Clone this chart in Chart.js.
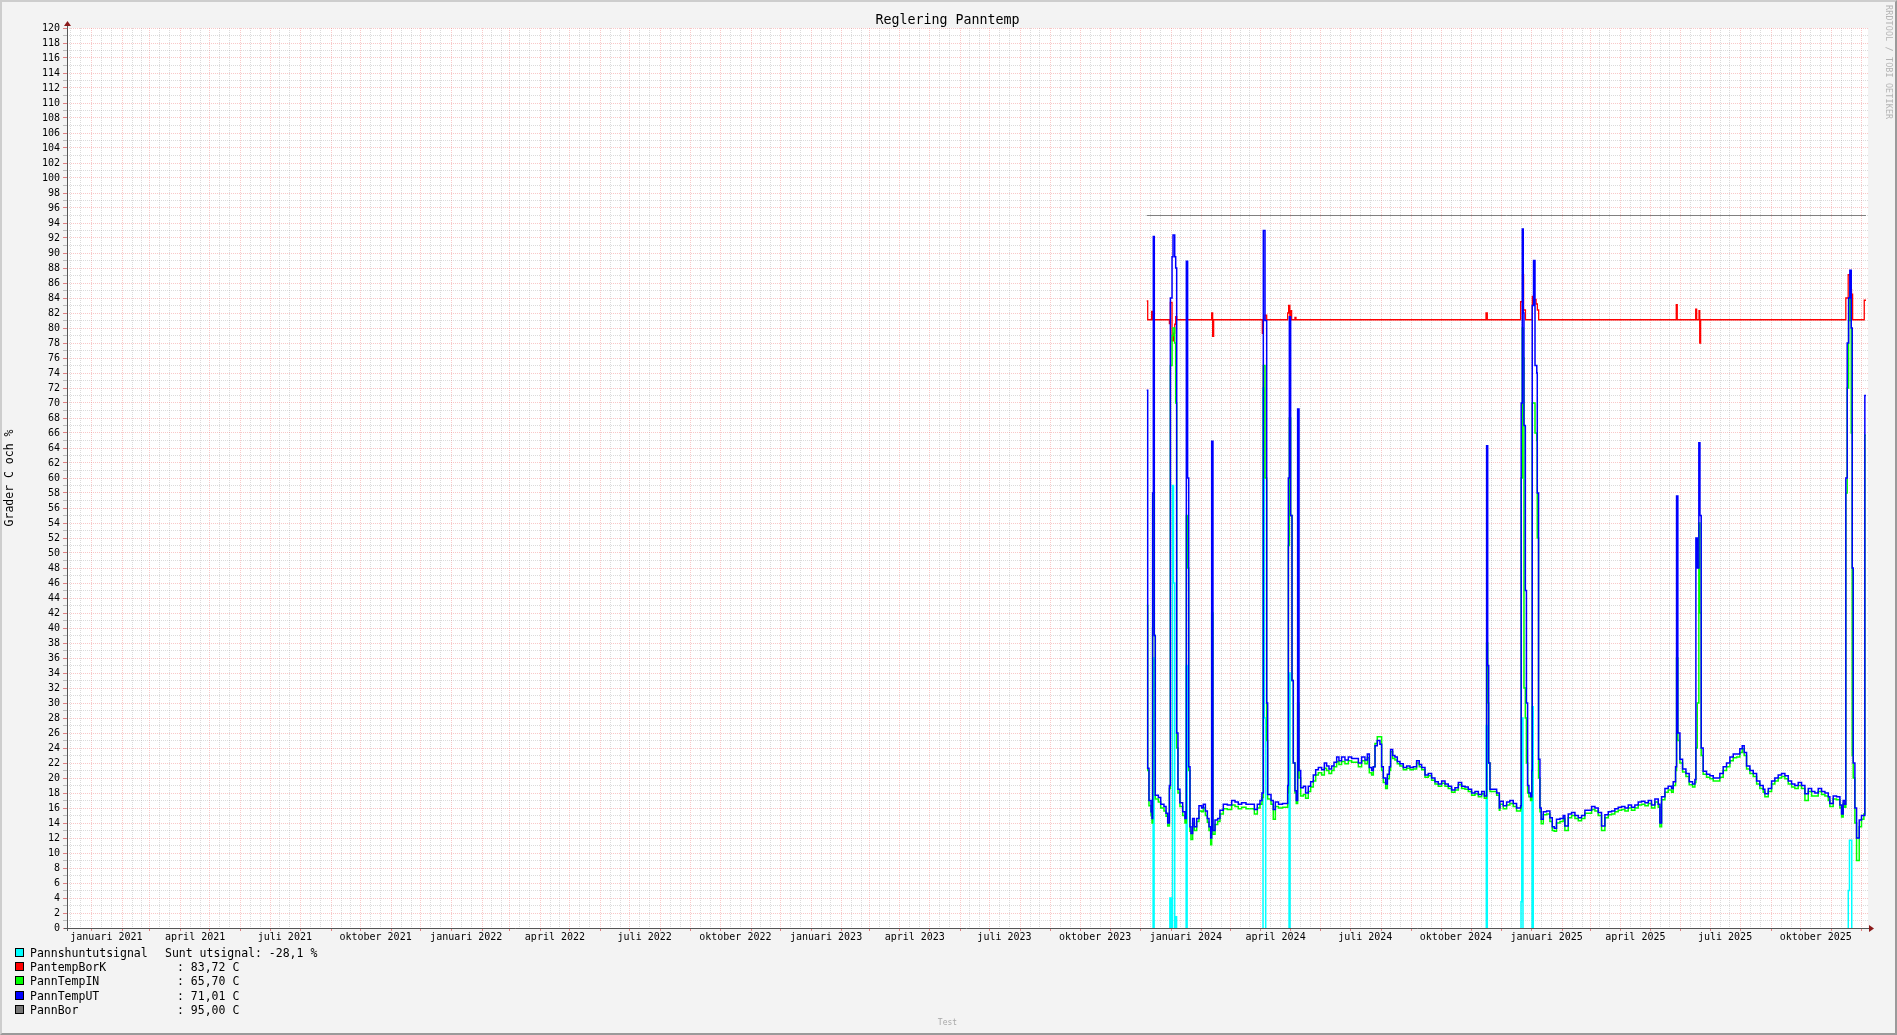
<!DOCTYPE html>
<html>
<head>
<meta charset="utf-8">
<title>Reglering Panntemp</title>
<script src="https://cdn.jsdelivr.net/npm/chart.js@4/dist/chart.umd.min.js"></script>
<style>
    html, body { margin: 0; padding: 0; background: #f3f3f3; }
    #wrap { position: relative; width: 1897px; height: 1035px; overflow: hidden; font-family: "DejaVu Sans Mono", monospace; color: #000; }
    #graph { position: absolute; left: 0; top: 0; }
    #frame { position: absolute; left: 0; top: 0; width: 1897px; height: 1035px; box-sizing: border-box;
             border-top: 2px solid #cdcdcd; border-left: 2px solid #cdcdcd;
             border-right: 2px solid #9a9a9a; border-bottom: 2px solid #9a9a9a; pointer-events: none; }
    #title { position: absolute; left: 0; top: 12px; width: 1895px; text-align: center; font-size: 13.3px; line-height: 16px; }
    #mark { position: absolute; left: 1884px; top: 5px; writing-mode: vertical-rl; font-size: 8.3px; color: #b4b4b4; letter-spacing: 0.2px; }
    #test { position: absolute; left: 0; top: 1018px; width: 1895px; text-align: center; font-size: 8px; color: #a8a8a8; }
    .row { position: absolute; left: 0; height: 14px; line-height: 14px; font-size: 11.5px; white-space: pre; }
    .row .box { position: absolute; left: 15px; top: 2px; width: 7px; height: 7px; border: 1px solid #000; }
    .row .name { position: absolute; left: 30px; }
    .row .val { position: absolute; }
</style>
</head>
<body>
<div id="wrap">
    <canvas id="graph" width="1897" height="1035"></canvas>
    <div id="title">Reglering Panntemp</div>
    <div id="mark">RRDTOOL / TOBI OETIKER</div>
    <div id="legend"></div>
    <div id="test">Test</div>
    <div id="frame"></div>
</div>
<script>
// x values are days since 2020-12-07 (left edge of the graph)
const X_START = Date.UTC(2020, 11, 7);
const X_END = 1827;
const monthNames = ["januari", "februari", "mars", "april", "maj", "juni",
                    "juli", "augusti", "september", "oktober", "november", "december"];

// PannTempUT / PannTempIN share the same sample days
const tempDays = [
    1095.3, 1096.3, 1097.6, 1099.7, 1100.7, 1101.3, 1102, 1103, 1104, 1107.1,
    1109.5, 1112.8, 1114.9, 1116.6, 1118.3, 1119.3, 1121, 1122, 1123.7, 1124.7,
    1125.7, 1127, 1129, 1131.8, 1134.1, 1135.5, 1136.8, 1137.9, 1139.2, 1140.2,
    1141.9, 1143.6, 1146, 1148.3, 1151, 1152.7, 1154.8, 1156.8, 1158.5, 1160.2,
    1161.2, 1162.5, 1164.6, 1167.3, 1169.6, 1173, 1177.1, 1181.5, 1184.9, 1188.2,
    1191.6, 1196, 1200.1, 1204.5, 1207.5, 1210.2, 1212.2, 1213.6, 1215.3, 1217,
    1218, 1221.4, 1223.7, 1225.8, 1229, 1233, 1238.3, 1239, 1240, 1241.3,
    1242.7, 1244, 1245.7, 1247, 1248.4, 1249.8, 1251.5, 1254.2, 1256.5, 1259.2,
    1261.6, 1264.3, 1266.7, 1269.4, 1272.8, 1275.5, 1277.8, 1280.2, 1282.9, 1285.3,
    1288, 1290.3, 1293, 1296.4, 1299.8, 1303.2, 1306.6, 1310, 1313.3, 1316.7,
    1319.1, 1321.1, 1323.5, 1325.2, 1326.9, 1329.2, 1331.9, 1333.6, 1335.3, 1337.7,
    1339.4, 1341.4, 1342.7, 1344.8, 1347.1, 1349.5, 1352.2, 1355.6, 1359, 1362.4,
    1365.7, 1369.1, 1371.8, 1374.2, 1377.6, 1380.9, 1384.3, 1387.7, 1391.1, 1394.5,
    1397.9, 1401.2, 1404.6, 1408, 1411.4, 1414.8, 1418.2, 1421.5, 1424.9, 1428.3,
    1431.7, 1435.1, 1437.8, 1440.1, 1441.2, 1442.2, 1443.5, 1446.9, 1450.3, 1453,
    1453.6, 1457, 1460.4, 1463.7, 1467.1, 1470.5, 1474.6, 1475.2, 1476.3, 1477.3,
    1478, 1479.4, 1480.5, 1481.7, 1483, 1484.7, 1486, 1486.4, 1487.7, 1489.2,
    1491, 1491.5, 1492.8, 1494.2, 1495.5, 1497.6, 1501, 1504.3, 1506.7, 1508.7,
    1511, 1514.5, 1517.8, 1519.5, 1522.9, 1526.3, 1529.7, 1533.1, 1536.4, 1539.8,
    1543.2, 1546.6, 1550, 1553.3, 1556.7, 1560.1, 1563.5, 1566.9, 1570.2, 1573.6,
    1577, 1580.4, 1583.8, 1587.1, 1590.5, 1593.9, 1597.3, 1600.7, 1604.1, 1607.4,
    1610.8, 1614.2, 1615.9, 1617.6, 1621, 1624.3, 1627.7, 1629.4, 1631.8, 1632.8,
    1634.1, 1636.2, 1638.9, 1642.3, 1645.6, 1649, 1651.4, 1652.4, 1653.8, 1655.4,
    1656.5, 1657.8, 1659.8, 1663.2, 1666.6, 1670, 1673.4, 1676.7, 1680.1, 1683.5,
    1686.9, 1690.3, 1693.7, 1697, 1699.4, 1701.4, 1703.8, 1707.2, 1710.6, 1714,
    1717.3, 1720.7, 1722.4, 1725.8, 1729.2, 1732.5, 1735.9, 1739.3, 1742.7, 1746.1,
    1749.5, 1752.8, 1756.2, 1759.6, 1763, 1766.4, 1769.8, 1773.1, 1776.5, 1779.9,
    1783.3, 1786.7, 1788.3, 1791.7, 1795.1, 1798.5, 1800.2, 1801.8, 1803.5, 1804.5,
    1805.9, 1807.3, 1808.6, 1810, 1811, 1812, 1813.7, 1815.4, 1818.1, 1820.4,
    1822.8, 1823.8, 1825
];
const pannTempUT = [
    71.7, 21.3, 17.0, 15.5, 14.6, 58, 92.2, 39, 17.7, 17.4,
    16.5, 16.2, 15.3, 14.0, 19.0, 84, 89.5, 92.4, 89.5, 88,
    26, 18.5, 16.7, 15.5, 14.6, 88.9, 60, 21.5, 13.5, 12.6,
    14.6, 13.5, 14.6, 16.3, 16.0, 16.5, 15.6, 14.6, 13.5, 12.0,
    64.9, 13.0, 14.4, 14.6, 15.7, 16.5, 16.4, 17.0, 16.8, 16.5,
    16.7, 16.5, 16.5, 15.8, 16.5, 17.0, 18.0, 93.0, 81, 30,
    17.8, 17.0, 15.8, 16.8, 16.5, 16.6, 19.0, 60, 81.5, 55,
    33, 22, 18.3, 17.0, 69.2, 21, 18.7, 18.9, 18.0, 18.9,
    19.5, 20.4, 21.1, 21.4, 21.1, 22.0, 21.6, 21.2, 21.6, 22.1,
    22.8, 22.3, 22.8, 22.4, 22.8, 22.6, 22.6, 22.0, 22.8, 22.4,
    23.2, 21.4, 21.0, 21.5, 24.3, 25.0, 24.5, 21.5, 20.0, 19.2,
    20.5, 21.5, 23.8, 23.0, 22.8, 22.2, 21.9, 21.4, 21.6, 21.4,
    21.5, 22.3, 21.8, 21.4, 20.4, 20.6, 20.0, 19.5, 19.2, 19.6,
    19.2, 18.9, 18.4, 18.7, 19.4, 18.9, 18.8, 18.5, 18.0, 18.2,
    17.8, 18.2, 17.6, 64.3, 35, 22, 18.5, 18.5, 18.0, 16.0,
    16.9, 16.3, 16.8, 17.0, 16.6, 16.0, 16.3, 70, 93.2, 82,
    67, 45, 30, 19, 18, 17.5, 21, 83, 89, 75,
    74, 58, 22.5, 16.0, 14.5, 15.5, 15.6, 14.7, 13.5, 13.3,
    14.5, 14.6, 15.0, 13.6, 15.2, 15.4, 15.0, 14.7, 15.0, 15.7,
    15.7, 16.2, 16.0, 15.4, 13.6, 15.1, 15.5, 15.6, 15.9, 16.1,
    16.2, 16.0, 16.4, 16.1, 16.4, 16.8, 16.9, 16.7, 17.0, 16.4,
    17.2, 16.5, 14.0, 17.5, 18.6, 18.9, 18.6, 19.5, 21.5, 57.6,
    26, 22.5, 21.2, 20.6, 19.5, 19.2, 19.8, 52, 48, 64.7,
    55, 24, 20.9, 20.5, 20.3, 20.0, 20.0, 20.6, 21.5, 22.0,
    22.8, 23.2, 23.2, 23.9, 24.3, 23.4, 21.6, 21.0, 20.6, 19.6,
    19.0, 18.5, 17.9, 18.6, 19.6, 20.0, 20.4, 20.6, 20.3, 19.6,
    19.2, 19.0, 19.4, 19.0, 17.9, 18.6, 18.2, 18.0, 18.6, 18.2,
    18.0, 17.5, 16.6, 17.6, 17.5, 16.4, 15.2, 17.0, 16.5, 60,
    78, 84, 87.7, 80, 48, 22, 16, 12.0, 14.4, 15.0,
    15.0, 71.0, 71.0
];
const pannTempIN = [
    43, 21.0, 16.3, 15.0, 14.0, 40, 58, 39, 17.2, 16.8,
    16.0, 15.6, 14.9, 13.6, 18.6, 75, 79, 80, 78, 70,
    24, 18.0, 16.2, 15.0, 14.0, 55, 48, 21, 12.9, 11.8,
    14.0, 13.0, 14.2, 15.6, 15.5, 16.0, 15.0, 14.1, 13.0, 11.1,
    42, 12.5, 13.8, 14.2, 15.2, 15.9, 15.8, 16.4, 16.2, 15.9,
    16.1, 15.9, 15.9, 15.2, 16.0, 16.5, 17.4, 75, 60, 25,
    17.2, 16.5, 14.5, 16.2, 16.0, 16.1, 18.0, 51, 68, 55,
    33, 22, 18.0, 16.6, 30, 20, 17.6, 17.8, 17.3, 18.2,
    18.8, 19.6, 20.4, 20.7, 20.4, 21.3, 21.0, 20.6, 21.0, 21.5,
    22.2, 21.8, 22.2, 21.9, 22.3, 22.1, 22.1, 21.5, 22.3, 21.9,
    22.7, 20.7, 20.4, 21.5, 24.6, 25.5, 25.5, 21.0, 19.4, 18.6,
    19.9, 21.0, 23.5, 22.6, 22.4, 21.9, 21.6, 21.1, 21.3, 21.1,
    21.2, 22.0, 21.5, 21.1, 20.1, 20.3, 19.7, 19.2, 18.9, 19.3,
    18.9, 18.6, 18.1, 18.4, 19.1, 18.6, 18.5, 18.2, 17.7, 17.9,
    17.5, 17.9, 17.3, 38, 30, 22, 18.2, 18.2, 17.7, 15.7,
    16.5, 15.9, 16.4, 16.6, 16.2, 15.6, 15.9, 60, 80, 76,
    32, 28, 22, 18, 17.5, 17, 21, 70, 70, 66,
    65, 52, 20, 15.5, 13.9, 15.1, 15.2, 14.2, 13.0, 12.9,
    14.0, 14.2, 14.6, 13.0, 14.7, 15.0, 14.6, 14.3, 14.6, 15.3,
    15.3, 15.8, 15.6, 15.0, 13.0, 14.7, 15.1, 15.2, 15.5, 15.7,
    15.8, 15.6, 16.0, 15.7, 16.0, 16.4, 16.5, 16.3, 16.6, 16.0,
    16.8, 16.1, 13.5, 17.1, 18.1, 18.4, 18.1, 19.0, 21.0, 36,
    25, 22.0, 20.8, 20.2, 19.1, 18.8, 19.4, 24, 30, 54,
    42, 23, 20.5, 20.1, 19.9, 19.6, 19.6, 20.1, 21.0, 21.5,
    22.3, 22.7, 22.8, 23.4, 23.9, 23.0, 21.2, 20.6, 20.2, 19.2,
    18.6, 18.1, 17.5, 18.2, 19.2, 19.6, 20.0, 20.2, 19.9, 19.2,
    18.8, 18.6, 19.0, 18.6, 17.0, 18.2, 17.6, 17.6, 18.2, 17.8,
    17.6, 17.0, 16.2, 17.2, 17.1, 16.0, 14.8, 16.6, 16.1, 58,
    72, 81, 85.7, 66, 23, 20, 14, 9.0, 13.5, 14.5,
    15.2, 65.7, 65.7
];

// PantempBorK (setpoint), step changes only
const borKDays = [
    1095.3, 1096.3, 1100.3, 1101.3, 1118.3, 1119.3, 1121, 1122.5, 1123.7, 1124.7,
    1125.7, 1161.2, 1162.2, 1163.2, 1212.6, 1213.6, 1215.3, 1217, 1238.3, 1239.3,
    1240.5, 1241.3, 1242.3, 1245.7, 1246.7, 1439.5, 1440.8, 1474.6, 1476.6, 1477.6,
    1479.5, 1486.5, 1488, 1490.3, 1491.6, 1492.9, 1632.5, 1633.5, 1652.2, 1653.2,
    1655.6, 1656.3, 1657.2, 1804.5, 1806.9, 1808.6, 1810.3, 1811.4, 1823.2, 1825
];
const pantempBorK = [
    83.6, 81.1, 82.2, 81.1, 80.6, 83.4, 78.3, 79.3, 80.5, 81.5,
    81.1, 82.0, 78.9, 81.1, 79.3, 81.1, 81.7, 81.1, 82.0, 83.0,
    81.1, 82.3, 81.1, 81.4, 81.1, 82.0, 81.1, 83.5, 87.1, 82.4,
    81.1, 84.2, 83.8, 83.2, 82.4, 81.1, 83.1, 81.1, 82.5, 81.1,
    82.3, 78.0, 81.1, 84.0, 87.1, 85.1, 84.5, 81.1, 83.7, 83.7
];

// Pannshuntutsignal, mostly negative (below the graph)
const shuntDays = [
    1095.3, 1101.8, 1102.8, 1118.8, 1120, 1121.5, 1122.5, 1123.7, 1124.8, 1125.6,
    1135.3, 1136.3, 1213.3, 1214.6, 1216, 1239.7, 1240.7, 1439.8, 1440.8, 1475,
    1475.8, 1477, 1486.2, 1487.4, 1807, 1808.2, 1810.5, 1825
];
const pannshunt = [
    -30, 36, -30, 4, -30, 59, 46, -30, 1.5, -30,
    35, -30, 72, 28, -30, 34, -30, 27, -30, 3.5,
    28, -30, 29.5, -30, 5, 11.7, -30, -28.1
];

const borDays = [1095.3, 1825];
const pannBor = [95, 95];

const legendRows = [
    ["#00ffff", "Pannshuntutsignal", "Sunt utsignal: -28,1 %", 165],
    ["#ff0000", "PantempBorK", ": 83,72 C", 177],
    ["#00ff00", "PannTempIN", ": 65,70 C", 177],
    ["#0000ff", "PannTempUT", ": 71,01 C", 177],
    ["#777777", "PannBor", ": 95,00 C", 177]
];
const legendTops = [946, 960, 974, 989, 1003];

function pts(days, vals) {
    return days.map((d, i) => ({ x: d, y: vals[i] }));
}

function dayOf(y, m, d) {
    return (Date.UTC(y, m, d) - X_START) / 86400000;
}

function buildXTicks(scale) {
    const ticks = [];
    for (let y = 2020; y <= 2025; y++) {
        for (let m = 0; m < 12; m++) {
            const d0 = dayOf(y, m, 1);
            if (d0 > 0 && d0 < X_END) ticks.push({ value: d0, kind: "major" });
            [11, 21].forEach(dd => {
                const v = dayOf(y, m, dd);
                if (v > 0 && v < X_END) ticks.push({ value: v, kind: "minor" });
            });
            if (m % 3 === 0) {
                const v = d0 + 15;
                if (v > 0 && v < X_END) ticks.push({ value: v, kind: "label", text: monthNames[m] + " " + y });
            }
        }
    }
    ticks.sort((a, b) => a.value - b.value);
    scale.ticks = ticks;
}

const MAJOR = "rgba(240,110,110,0.38)";
const MINOR = "rgba(160,160,160,0.38)";

const backdrop = {
    id: "backdrop",
    beforeDraw(chart) {
        const { ctx, chartArea: a } = chart;
        ctx.save();
        ctx.fillStyle = "#ffffff";
        ctx.fillRect(a.left, a.top, a.right - a.left, a.bottom - a.top);
        ctx.restore();
    },
    afterDraw(chart) {
        const { ctx, chartArea: a } = chart;
        ctx.save();
        ctx.strokeStyle = "#555555";
        ctx.lineWidth = 1;
        ctx.beginPath();
        ctx.moveTo(a.left - 3, a.bottom + 0.5);
        ctx.lineTo(a.right + 1, a.bottom + 0.5);
        ctx.moveTo(a.left + 0.5, a.bottom + 3);
        ctx.lineTo(a.left + 0.5, a.top - 2);
        ctx.stroke();
        ctx.fillStyle = "#8b1a1a";
        ctx.beginPath();
        ctx.moveTo(a.left + 0.5, a.top - 7);
        ctx.lineTo(a.left - 3, a.top - 2);
        ctx.lineTo(a.left + 4, a.top - 2);
        ctx.closePath();
        ctx.fill();
        ctx.beginPath();
        ctx.moveTo(a.right + 6, a.bottom + 0.5);
        ctx.lineTo(a.right + 1, a.bottom - 3);
        ctx.lineTo(a.right + 1, a.bottom + 4);
        ctx.closePath();
        ctx.fill();
        ctx.restore();
    }
};

document.addEventListener("DOMContentLoaded", function() {
    const legend = document.getElementById("legend");
    legendRows.forEach((r, i) => {
        const row = document.createElement("div");
        row.className = "row";
        row.style.top = legendTops[i] + "px";
        row.innerHTML = '<span class="box" style="background:' + r[0] + '"></span>' +
            '<span class="name">' + r[1] + '</span>' +
            '<span class="val" style="left:' + r[3] + 'px">' + r[2] + '</span>';
        legend.appendChild(row);
    });

    Chart.defaults.font.family = '"DejaVu Sans Mono", monospace';
    Chart.defaults.color = "#000";

    const line = (label, data, color, width, order) => ({
        label: label,
        data: data,
        borderColor: color,
        borderWidth: width,
        stepped: true,
        pointRadius: 0,
        fill: false,
        order: order,
        clip: 0
    });

    new Chart(document.getElementById("graph"), {
        type: "line",
        data: {
            datasets: [
                line("Pannshuntutsignal", pts(shuntDays, pannshunt), "#00ffff", 1.5, 5),
                line("PantempBorK", pts(borKDays, pantempBorK), "#ff0000", 1.3, 4),
                line("PannTempIN", pts(tempDays, pannTempIN), "#00ff00", 1.5, 3),
                line("PannTempUT", pts(tempDays, pannTempUT), "#0000ff", 1.5, 2),
                line("PannBor", pts(borDays, pannBor), "#808080", 1, 1)
            ]
        },
        options: {
            responsive: false,
            devicePixelRatio: 1,
            animation: false,
            events: [],
            layout: { padding: { top: 28, right: 29, left: 0, bottom: 0 } },
            plugins: {
                legend: { display: false },
                tooltip: { enabled: false },
                title: { display: false }
            },
            scales: {
                x: {
                    type: "linear",
                    min: 0,
                    max: X_END,
                    afterBuildTicks: buildXTicks,
                    afterFit: s => { s.height = 107; },
                    border: { display: false, dash: [1, 1] },
                    grid: {
                        color: c => c.tick.kind === "major" ? MAJOR : (c.tick.kind === "minor" ? MINOR : "rgba(0,0,0,0)"),
                        tickColor: c => c.tick.kind === "major" ? "#e08080" : "rgba(0,0,0,0)",
                        tickLength: 3,
                        lineWidth: 1
                    },
                    ticks: {
                        autoSkip: false,
                        maxRotation: 0,
                        padding: 0,
                        font: { size: 10 },
                        callback: (v, i, t) => t[i].kind === "label" ? t[i].text : ""
                    }
                },
                y: {
                    min: 0,
                    max: 120,
                    afterBuildTicks: s => {
                        const t = [];
                        for (let v = 0; v <= 120; v++) t.push({ value: v });
                        s.ticks = t;
                    },
                    afterFit: s => { s.width = 67; },
                    border: { display: false, dash: [1, 1] },
                    grid: {
                        color: c => c.tick.value % 2 === 0 ? MAJOR : MINOR,
                        tickColor: c => c.tick.value % 2 === 0 ? "#e08080" : "#bbbbbb",
                        tickLength: 4,
                        lineWidth: 1
                    },
                    ticks: {
                        autoSkip: false,
                        padding: 3,
                        font: { size: 10 },
                        callback: v => v % 2 === 0 ? String(v) : ""
                    },
                    title: {
                        display: true,
                        text: "Grader C och %",
                        font: { size: 11.5 },
                        padding: { top: 3, bottom: 0 }
                    }
                }
            }
        },
        plugins: [backdrop]
    });
});
</script>
</body>
</html>
